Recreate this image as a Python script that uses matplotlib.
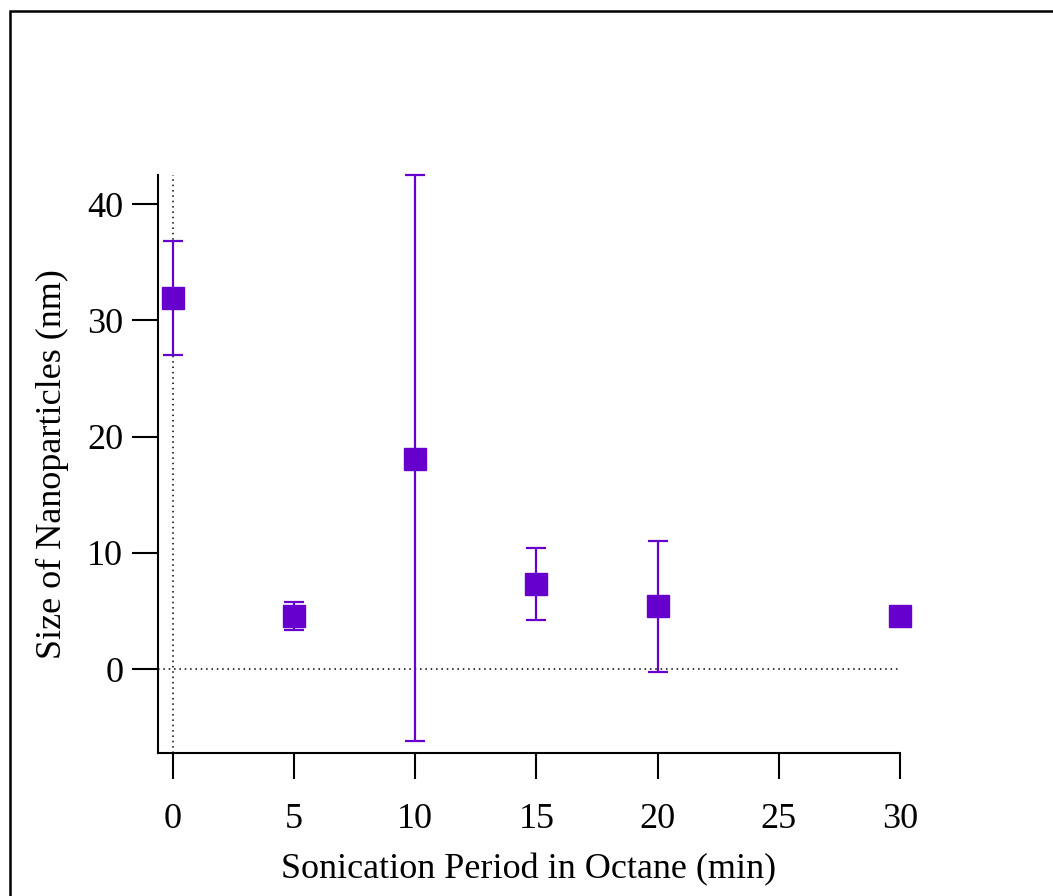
import matplotlib.pyplot as plt
from matplotlib.patches import Rectangle

# sonication time (min) vs. particle size (nm)
period = [0, 5, 10, 15, 20, 30]
size = [31.9, 4.6, 18.1, 7.3, 5.4, 4.6]
err_low = [27.0, 3.4, -6.2, 4.2, -0.2, 4.6]
err_high = [36.8, 5.8, 42.5, 10.4, 11.0, 4.6]

purple = '#6600CC'

plt.rcParams['font.family'] = ['Liberation Serif', 'DejaVu Serif']

fig = plt.figure(figsize=(10.53, 8.96), dpi=100)
ax = fig.add_axes([0.150, 0.1596, 0.7047, 0.6451])

# outer frame (runs off the right/bottom edge)
fig.patches.append(Rectangle((10 / 1053, -0.1), 1.2, 0.1 + (896 - 11) / 896,
                             transform=fig.transFigure, fill=False,
                             edgecolor='black', linewidth=1.8))

yerr = [[s - lo for s, lo in zip(size, err_low)],
        [hi - s for s, hi in zip(size, err_high)]]

ax.axvline(0, color='black', linestyle=(0, (1, 2.5)), linewidth=1.1, zorder=1)
ax.plot([-0.62, 30], [0, 0], color='black', linestyle=(0, (1, 2.5)),
        linewidth=1.1, zorder=1)

markers, caps, bars = ax.errorbar(period, size, yerr=yerr, fmt='s',
                                  color=purple, ecolor=purple,
                                  markersize=15.5, elinewidth=1.6, capsize=7,
                                  capthick=1.6, zorder=3)
for artist in [markers, *caps, *bars]:
    artist.set_clip_on(False)

ax.set_xlim(-0.62, 30)
ax.set_ylim(-7.2, 42.5)
ax.set_xticks([0, 5, 10, 15, 20, 25, 30])
ax.set_yticks([0, 10, 20, 30, 40])

for side in ['top', 'right']:
    ax.spines[side].set_visible(False)
for side in ['left', 'bottom']:
    ax.spines[side].set_linewidth(1.5)

ax.tick_params(direction='out', length=19, width=1.5, labelsize=26)
ax.tick_params(axis='x', pad=17)
ax.tick_params(axis='y', pad=6)

ax.set_xlabel('Sonication Period in Octane (min)', fontsize=26, labelpad=12)
ax.set_ylabel('Size of Nanoparticles (nm)', fontsize=26, labelpad=13)

fig.savefig('out.png', dpi=100)
